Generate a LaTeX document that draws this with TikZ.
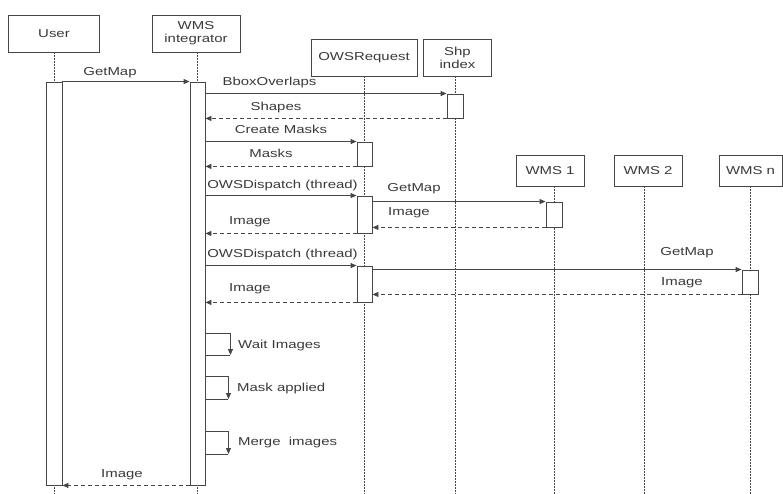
\documentclass[tikz,border=0pt]{standalone}
\usepackage{fontspec}
\setmainfont{Liberation Sans}[FakeStretch=1.3]
\usetikzlibrary{arrows.meta}
\definecolor{ln}{HTML}{464646}
\definecolor{tx}{HTML}{3A3A3A}
\tikzset{
  part/.style={draw=ln, line width=0.9bp, fill=white, text=tx, inner sep=0pt, align=center,
    font=\fontsize{11.5bp}{13bp}\selectfont},
  act/.style={draw=ln, line width=0.9bp, fill=white, inner sep=0pt},
  life/.style={draw=ln, line width=0.9bp, dash pattern=on 1.5bp off 1.5bp},
  plain/.style={draw=ln, line width=0.9bp},
  msg/.style={draw=ln, line width=0.9bp, -{Triangle[length=6bp,width=5bp]}},
  ret/.style={msg, dash pattern=on 4bp off 3bp},
  lbl/.style={text=tx, inner sep=0pt, anchor=base, font=\fontsize{11.5bp}{13bp}\selectfont},
  lblw/.style={lbl, anchor=base west}
}
\begin{document}
\begin{tikzpicture}[x=1bp,y=-1bp]
\fill[white] (0,0) rectangle (783,494);
\useasboundingbox (0,0) rectangle (783,494);
\coordinate (bot) at (0,494);

% participants
\node[part, minimum width=91bp, minimum height=37bp] (pU) at (54,33.5) {User};
\node[part, minimum width=88bp, minimum height=37bp] (pI) at (196,33.5) {WMS\\integrator};
\node[part, minimum width=106bp, minimum height=37bp] (pO) at (364,57.5) {OWSRequest};
\node[part, minimum width=68bp, minimum height=37bp] (pS) at (457.5,57.5) {Shp\\index};
\node[part, minimum width=68bp, minimum height=31bp] (pW1) at (550,170.5) {WMS 1};
\node[part, minimum width=68bp, minimum height=31bp] (pW2) at (648,170.5) {WMS 2};
\node[part, minimum width=63bp, minimum height=31bp] (pWn) at (750.5,170.5) {WMS n};

% activation bars (positions only)
\coordinate (cU) at (54,283.5);
\coordinate (cI) at (197.5,283.5);

% lifelines
\draw[life] (pU.south) -- (pU.south |- bot);
\draw[life] (pI.south -| cI) -- (cI |- bot);
\draw[life] (pO.south -| 364.5,0) -- (364.5,494);
\draw[life] (pS.south -| 455,0) -- (455,494);
\draw[life] (pW1.south -| 554,0) -- (554,494);
\draw[life] ([xshift=-4bp]pW2.south) -- ([xshift=-4bp]pW2.south |- bot);
\draw[life] (pWn.south -| 750,0) -- (750,494);

% activations
\node[act, minimum width=16bp, minimum height=403bp] (actU) at (cU) {};
\node[act, minimum width=15bp, minimum height=403bp] (actI) at (cI) {};
\node[act, minimum width=16bp, minimum height=24bp] (actS) at (455,106) {};
\node[act, minimum width=15bp, minimum height=24bp] (actO1) at (364.5,154) {};
\node[act, minimum width=15bp, minimum height=37bp] (actO2) at (364.5,214.5) {};
\node[act, minimum width=15bp, minimum height=36bp] (actO3) at (364.5,284) {};
\node[act, minimum width=16bp, minimum height=25bp] (actW1) at (554,214.5) {};
\node[act, minimum width=16bp, minimum height=24bp] (actWn) at (750,282) {};

% messages
\draw[msg] (actU.north east) -- (actI.north west);
\node[lbl] (l1) at (110,76) {GetMap};

\draw[msg] (actI.east |- actS.north) -- (actS.north west);
\node[lbl] (l2) at (269.5,86) {BboxOverlaps};
\draw[ret] (actS.south west) -- (actI.east |- actS.south);
\node[lbl] (l3) at (276,111) {Shapes};

\draw[msg] (actI.east |- actO1.north) -- (actO1.north west);
\node[lbl] (l4) at (281,133.5) {Create Masks};
\draw[ret] (actO1.south west) -- (actI.east |- actO1.south);
\node[lbl] (l5) at (271,157.5) {Masks};

\draw[msg] (actI.east |- actO2.north) -- (actO2.north west);
\node[lbl] (l6) at (282.5,188.5) {OWSDispatch (thread)};
\draw[msg] (actO2.east |- actW1.north) -- (actW1.north west);
\node[lbl] (l7) at (414,192) {GetMap};
\draw[ret] (actW1.south west) -- (actO2.east |- actW1.south);
\node[lbl] (l8) at (409,216) {Image};
\draw[ret] (actO2.south west) -- (actI.east |- actO2.south);
\node[lbl] (l9) at (250,225) {Image};

\draw[msg] (actI.east |- actO3.north) -- (actO3.north west);
\node[lbl] (l10) at (282.5,258) {OWSDispatch (thread)};
\draw[msg] (actO3.east |- actWn.north) -- (actWn.north west);
\node[lbl] (l11) at (687,256) {GetMap};
\draw[ret] (actWn.south west) -- (actO3.east |- actWn.south);
\node[lbl] (l12) at (682,286) {Image};
\draw[ret] (actO3.south west) -- (actI.east |- actO3.south);
\node[lbl] (l13) at (250,292) {Image};

% self messages
\draw[msg] (actI.east |- 0,333) -| ++(25,22);
\draw[plain] (actI.east |- 0,355) -- ++(25,0);
\node[lblw] (l14) at (238,348) {Wait Images};

\draw[msg] (actI.east |- 0,376) -| ++(23,23);
\draw[plain] (actI.east |- 0,399) -- ++(23,0);
\node[lblw] (l15) at (237,391) {Mask applied};

\draw[msg] (actI.east |- 0,431) -| ++(23,23);
\draw[plain] (actI.east |- 0,454) -- ++(23,0);
\node[lblw] (l16) at (238,445) {Merge\ \ images};

\draw[ret] (actI.south west) -- (actU.south east);
\node[lbl] (l17) at (122,477) {Image};
\end{tikzpicture}
\end{document}
